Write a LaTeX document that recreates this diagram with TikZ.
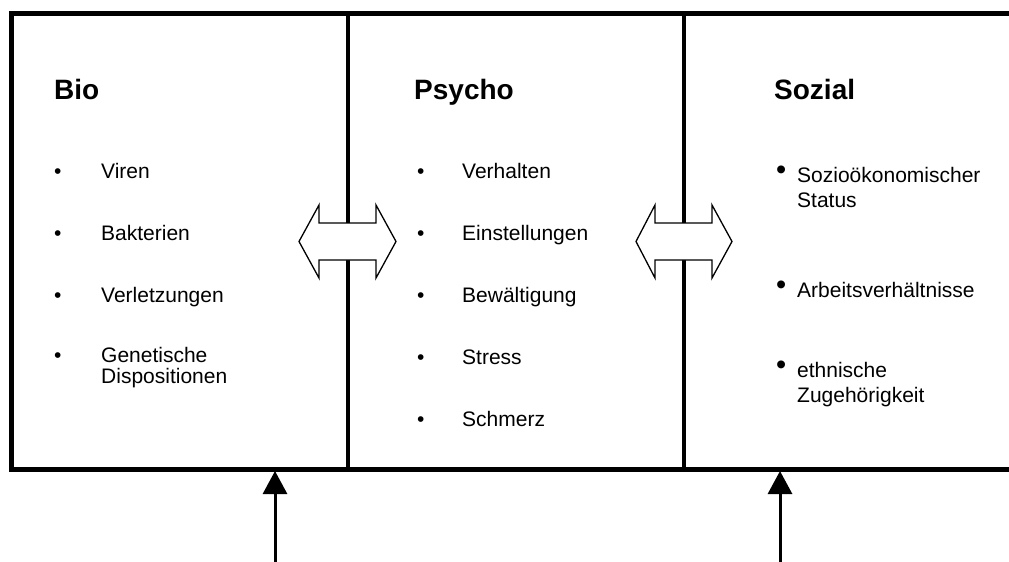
\documentclass[tikz,border=0pt]{standalone}
\usepackage{fontspec}
\setmainfont{Liberation Sans}
\usetikzlibrary{arrows.meta}
\tikzset{
  frameline/.style={line width=5pt, line join=miter},
  divline/.style={line width=4pt},
  title/.style={anchor=base west, inner sep=0pt, font=\fontsize{28}{32}\selectfont\bfseries},
  item/.style={anchor=base west, inner sep=0pt, align=left, font=\fontsize{21}{25}\selectfont},
  itemtight/.style={anchor=base west, inner sep=0pt, align=left, font=\fontsize{21}{21.6}\selectfont},
  bul/.style={anchor=base west, inner sep=0pt, font=\fontsize{21}{25}\selectfont},
  bigbul/.style={anchor=base west, inner sep=0pt, font=\fontsize{29}{30}\selectfont},
  dblarrow/.style={draw=black, fill=white, line width=1.3pt, line join=miter},
  uparrow/.style={line width=3pt, -{Triangle[length=23pt,width=24pt]}, shorten >=0pt}
}
\begin{document}
\begin{tikzpicture}[x=1pt,y=-1pt]
\useasboundingbox (0,0) rectangle (1009,562);
% frame
\draw[frameline] (1012,13.5) -- (11.5,13.5) -- (11.5,469.5) -- (1012,469.5);
\draw[divline] (347.5,13.5) -- (347.5,469.5);
\draw[divline] (684,13.5) -- (684,469.5);
% double arrows
\coordinate (da1) at (347.5,241.5);
\coordinate (da2) at (684,241.5);
\draw[dblarrow] (da1) ++(-48.5,0) -- ++(20,-36.5) -- ++(0,18) -- ++(57,0) -- ++(0,-18) -- ++(20,36.5) -- ++(-20,36.5) -- ++(0,-18) -- ++(-57,0) -- ++(0,18) -- cycle;
\draw[dblarrow] (da2) ++(-48,0) -- ++(19,-36.5) -- ++(0,18) -- ++(57,0) -- ++(0,-18) -- ++(20,36.5) -- ++(-20,36.5) -- ++(0,-18) -- ++(-57,0) -- ++(0,18) -- cycle;
% Bio
\node[title] (bio) at (54,99) {Bio};
\node[bul] (b1) at (54,178) {•};
\node[item] (bt1) at (101,178) {Viren};
\node[bul] (b2) at (54,240) {•};
\node[item] (bt2) at (101,240) {Bakterien};
\node[bul] (b3) at (54,302) {•};
\node[item] (bt3) at (101,302) {Verletzungen};
\node[bul] (b4) at (54,362) {•};
\node[itemtight] (bt4) at (101,383.6) {Genetische\\Dispositionen};
% Psycho
\node[title] (psy) at (414,99) {Psycho};
\node[bul] (p1) at (417,178) {•};
\node[item] (pt1) at (462,178) {Verhalten};
\node[bul] (p2) at (417,240) {•};
\node[item] (pt2) at (462,240) {Einstellungen};
\node[bul] (p3) at (417,302) {•};
\node[item] (pt3) at (462,302) {Bewältigung};
\node[bul] (p4) at (417,364) {•};
\node[item] (pt4) at (462,364) {Stress};
\node[bul] (p5) at (417,426) {•};
\node[item] (pt5) at (462,426) {Schmerz};
% Sozial
\node[title] (soz) at (774,99) {Sozial};
\node[bigbul] (s1) at (776,179) {•};
\node[item] (st1) at (797,207) {Sozioökonomischer\\Status};
\node[bigbul] (s2) at (776,294) {•};
\node[item] (st2) at (797,297) {Arbeitsverhältnisse};
\node[bigbul] (s3) at (776,374) {•};
\node[item] (st3) at (797,402) {ethnische\\Zugehörigkeit};
% up arrows
\coordinate (u1a) at (275,563);
\coordinate (u1b) at (275,471);
\coordinate (u2a) at (780,563);
\coordinate (u2b) at (780,471);
\draw[uparrow] (u1a) -- (u1b);
\draw[uparrow] (u2a) -- (u2b);
\end{tikzpicture}
\end{document}
